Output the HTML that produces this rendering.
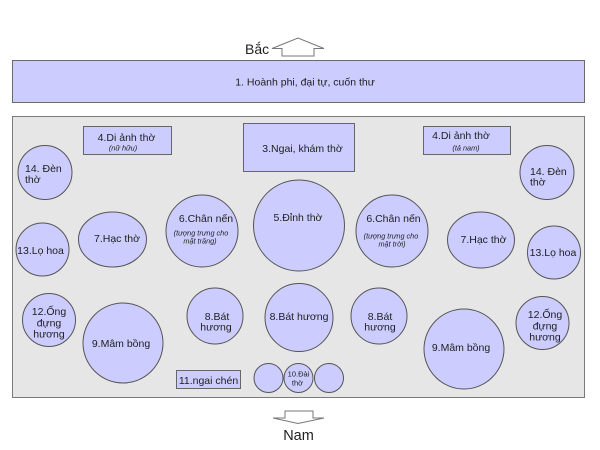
<!DOCTYPE html>
<html>
<head>
<meta charset="utf-8">
<style>
  html, body { margin: 0; padding: 0; background: #ffffff; }
  svg { display: block; }
  text { font-family: "Liberation Sans", Arial, sans-serif; fill: #1e1e1e; }
  .t { font-size: 10.5px; }
  .s { font-size: 7.3px; font-style: italic; }
  .c { text-anchor: middle; }
</style>
</head>
<body>
<svg width="600" height="450" viewBox="0 0 600 450" xmlns="http://www.w3.org/2000/svg">
  <rect x="0" y="0" width="600" height="450" fill="#ffffff"/>

  <!-- North -->
  <text x="245" y="54" style="font-size:14px">Bắc</text>
  <polygon points="272,48.5 298,38 324,48.5 314,48.5 314,56 282,56 282,48.5" fill="#ffffff" stroke="#777" stroke-width="1"/>

  <!-- Top bar -->
  <rect x="12.5" y="60.5" width="572" height="42" fill="#ccccff" stroke="#6a6a6a" stroke-width="1"/>
  <text class="t c" x="305" y="85.5">1. Hoành phi, đại tự, cuốn thư</text>

  <!-- Main gray area -->
  <rect x="12.5" y="116.5" width="572" height="281" fill="#e6e6e6" stroke="#7a7a7a" stroke-width="1"/>

  <!-- 4 left -->
  <rect x="83.5" y="126.5" width="88" height="28" fill="#ccccff" stroke="#666" stroke-width="1"/>
  <text class="t c" x="126.5" y="141">4.Di ảnh thờ</text>
  <text class="s c" x="123" y="150.5">(nữ hữu)</text>

  <!-- 3 -->
  <rect x="243.5" y="123.5" width="111" height="48" fill="#ccccff" stroke="#666" stroke-width="1"/>
  <text class="t c" x="302.5" y="152">3.Ngai, khám thờ</text>

  <!-- 4 right -->
  <rect x="423.5" y="126.5" width="87" height="28" fill="#ccccff" stroke="#666" stroke-width="1"/>
  <text class="t c" x="461" y="139">4.Di ảnh thờ</text>
  <text class="s c" x="466" y="150.5">(tả nam)</text>

  <g fill="#ccccff" stroke="#555" stroke-width="1">
    <circle cx="45" cy="172.5" r="27"/>
    <circle cx="547" cy="172.5" r="27"/>
    <circle cx="42.5" cy="249.5" r="26.5"/>
    <ellipse cx="112.5" cy="239.5" rx="34" ry="27.5"/>
    <circle cx="202" cy="231" r="36"/>
    <circle cx="299" cy="225.5" r="45.5"/>
    <circle cx="392" cy="231" r="36"/>
    <ellipse cx="481" cy="240" rx="33.5" ry="28"/>
    <circle cx="554" cy="252.5" r="26.5"/>
    <circle cx="49" cy="320" r="26.5"/>
    <circle cx="542.5" cy="323" r="26.5"/>
    <circle cx="123" cy="343" r="40"/>
    <circle cx="464" cy="349" r="40"/>
    <circle cx="215" cy="316" r="28"/>
    <circle cx="299" cy="317.5" r="34"/>
    <circle cx="379" cy="316" r="28"/>
    <circle cx="268.5" cy="378" r="14.5"/>
    <circle cx="298.5" cy="378" r="14.5"/>
    <circle cx="329" cy="378" r="14.5"/>
  </g>

  <!-- 14 -->
  <text class="t" x="25" y="172">14. Đèn</text>
  <text class="t" x="25" y="183">thờ</text>
  <text class="t" x="530" y="175">14. Đèn</text>
  <text class="t" x="530" y="185.5">thờ</text>

  <!-- 13 -->
  <text class="t c" x="40.5" y="254">13.Lọ hoa</text>
  <text class="t c" x="553" y="256">13.Lọ hoa</text>

  <!-- 7 -->
  <text class="t c" x="117" y="242">7.Hạc thờ</text>
  <text class="t c" x="483.5" y="243">7.Hạc thờ</text>

  <!-- 6 -->
  <text class="t c" x="206" y="222">6.Chân nến</text>
  <text class="s c" x="201" y="235.5">(tượng trưng cho</text>
  <text class="s c" x="200" y="243.5">mặt trăng)</text>
  <text class="t c" x="393.5" y="222">6.Chân nến</text>
  <text class="s c" x="391" y="238.5">(tượng trưng cho</text>
  <text class="s c" x="392" y="246.5">mặt trời)</text>

  <!-- 5 -->
  <text class="t c" x="298" y="221">5.Đỉnh thờ</text>

  <!-- 12 -->
  <text class="t c" x="49" y="315">12.Ống</text>
  <text class="t c" x="49" y="326.5">đựng</text>
  <text class="t c" x="49" y="337.5">hương</text>
  <text class="t c" x="545" y="318">12.Ống</text>
  <text class="t c" x="545" y="329.5">đựng</text>
  <text class="t c" x="545" y="340.5">hương</text>

  <!-- 9 -->
  <text class="t c" x="121" y="347">9.Mâm bồng</text>
  <text class="t c" x="461" y="351">9.Mâm bồng</text>

  <!-- 8 -->
  <text class="t c" x="217" y="320">8.Bát</text>
  <text class="t c" x="216" y="330.5">hương</text>
  <text class="t c" x="299" y="320">8.Bát hương</text>
  <text class="t c" x="380" y="320">8.Bát</text>
  <text class="t c" x="380" y="330.5">hương</text>

  <!-- 11 -->
  <rect x="176.5" y="370.5" width="64" height="18" fill="#ccccff" stroke="#666" stroke-width="1"/>
  <text class="t c" x="208.5" y="384">11.ngai chén</text>

  <!-- 10 -->
  <text class="c" x="298.5" y="376.5" style="font-size:7.5px">10.Đài</text>
  <text class="c" x="297.5" y="385.5" style="font-size:7.5px">thờ</text>

  <!-- South -->
  <polygon points="285,411 313,411 313,418 324,418 298,423.5 273,418 285,418" fill="#ffffff" stroke="#777" stroke-width="1"/>
  <text class="c" x="298.5" y="440" style="font-size:14.5px">Nam</text>
</svg>
</body>
</html>
